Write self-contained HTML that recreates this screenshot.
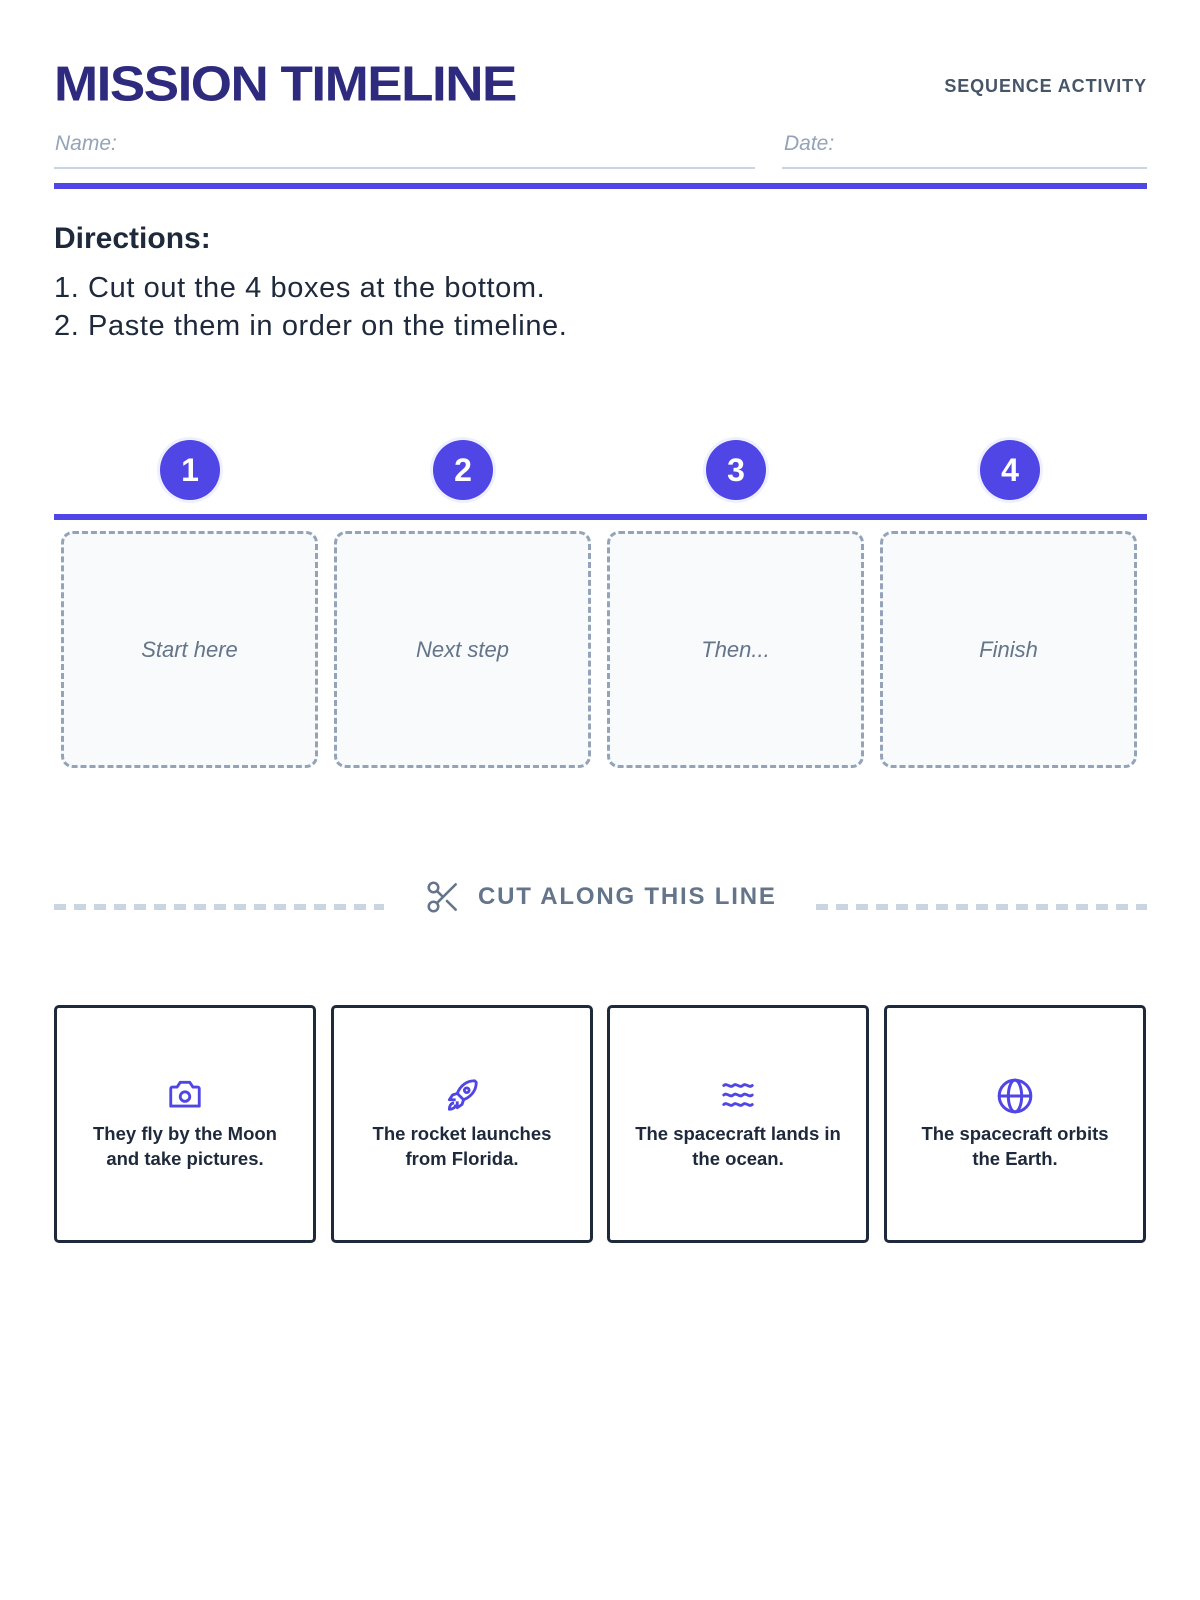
<!DOCTYPE html>
<html><head><meta charset="utf-8"><style>
*{margin:0;padding:0;box-sizing:border-box}
body{width:1200px;height:1600px;background:#fff;position:relative;font-family:"Liberation Sans",sans-serif;overflow:hidden}
.a{position:absolute}
h1{position:absolute;left:54px;top:56px;font-size:53px;font-weight:900;color:#2e2a7e;letter-spacing:-1.5px;transform:scaleY(0.93);transform-origin:top left}
.seq{right:53px;top:76px;font-size:18px;font-weight:bold;color:#475569;letter-spacing:0.9px}
.lbl{font-style:italic;color:#94a3b8;font-size:21px}
.circ{width:60px;height:60px;border-radius:50%;background:#4f46e5;color:#fff;font-weight:bold;font-size:32px;text-align:center;line-height:60px;box-shadow:0 0 0 3px #eef0ff}
.dbox{width:257px;height:237px;border:3px dashed #94a3b8;border-radius:12px;background:#f8fafc;top:531px;display:flex;align-items:center;justify-content:center;font-style:italic;color:#64748b;font-size:22px}
.card{width:262px;height:238px;border:3px solid #1e293b;border-radius:5px;top:1005px;text-align:center;font-weight:bold;color:#1e293b;font-size:18.5px;line-height:25px}
.card svg{position:absolute;left:50%;top:68px;transform:translateX(-50%)}
.card p{position:absolute;left:0;right:0;top:113px}
</style></head><body>
<h1>MISSION TIMELINE</h1>
<div class="a seq">SEQUENCE ACTIVITY</div>
<div class="a lbl" style="left:55px;top:132px">Name:</div>
<div class="a" style="left:54px;top:167px;width:701px;height:2px;background:#cbd5e1"></div>
<div class="a lbl" style="left:784px;top:132px">Date:</div>
<div class="a" style="left:782px;top:167px;width:365px;height:2px;background:#cbd5e1"></div>
<div class="a" style="left:54px;top:183px;width:1093px;height:6px;background:#4f46e5"></div>
<div class="a" style="left:54px;top:222px;font-size:30px;font-weight:bold;color:#1e293b">Directions:</div>
<div class="a" style="left:54px;top:269px;font-size:29px;color:#1e293b;line-height:38px;letter-spacing:0.6px">1. Cut out the 4 boxes at the bottom.<br>2. Paste them in order on the timeline.</div>
<div class="a" style="left:54px;top:514px;width:1093px;height:6px;background:#4f46e5"></div>
<div class="a circ" style="left:160px;top:440px">1</div>
<div class="a circ" style="left:433px;top:440px">2</div>
<div class="a circ" style="left:706px;top:440px">3</div>
<div class="a circ" style="left:980px;top:440px">4</div>
<div class="a dbox" style="left:61px">Start here</div>
<div class="a dbox" style="left:334px">Next step</div>
<div class="a dbox" style="left:607px">Then...</div>
<div class="a dbox" style="left:880px">Finish</div>
<div class="a" style="left:54px;top:904px;width:330px;height:6px;background:repeating-linear-gradient(90deg,#cbd5e1 0 12px,transparent 12px 20px)"></div>
<div class="a" style="left:816px;top:904px;width:331px;height:6px;background:repeating-linear-gradient(90deg,#cbd5e1 0 12px,transparent 12px 20px)"></div>
<svg class="a" style="left:424px;top:878px" width="38" height="38" viewBox="0 0 24 24" fill="none" stroke="#64748b" stroke-width="1.6" stroke-linecap="round"><circle cx="6" cy="6" r="3"/><circle cx="6" cy="18" r="3"/><path d="M20 4L8.1 15.9M14.5 14.5L20 20M8.1 8.1L12 12"/></svg>
<div class="a" style="left:478px;top:883px;font-size:24px;font-weight:bold;color:#64748b;letter-spacing:1.8px">CUT ALONG THIS LINE</div>
<div class="a card" style="left:54px"><svg width="38" height="38" viewBox="0 0 24 24" fill="none" stroke="#4f46e5" stroke-width="1.8" stroke-linejoin="round"><path d="M3 8a1 1 0 0 1 1-1h3l2-3h6l2 3h3a1 1 0 0 1 1 1v11H3z"/><circle cx="12" cy="13" r="3"/></svg><p>They fly by the Moon<br>and take pictures.</p></div>
<div class="a card" style="left:331px"><svg width="38" height="38" viewBox="0 0 24 24" fill="none" stroke="#4f46e5" stroke-width="1.8" stroke-linejoin="round"><path d="M20 3c-5 0-9 3-11 8l4 4c5-2 8-6 8-11z"/><circle cx="15" cy="9" r="1.5"/><path d="M9 11l-3 1-2 3 4 0M13 15l-1 3-3 2 0-4M7 17c-2 0-3 2-3 4 2 0 4-1 4-3"/></svg><p>The rocket launches<br>from Florida.</p></div>
<div class="a card" style="left:607px"><svg width="38" height="38" viewBox="0 0 24 24" fill="none" stroke="#4f46e5" stroke-width="1.8" stroke-linecap="round"><path d="M3 6c2-2 4 2 6 0s4 2 6 0 4 2 6 0M3 12c2-2 4 2 6 0s4 2 6 0 4 2 6 0M3 18c2-2 4 2 6 0s4 2 6 0 4 2 6 0"/></svg><p>The spacecraft lands in<br>the ocean.</p></div>
<div class="a card" style="left:884px"><svg width="40" height="40" viewBox="0 0 24 24" fill="none" stroke="#4f46e5" stroke-width="1.8"><circle cx="12" cy="12" r="9.5"/><ellipse cx="12" cy="12" rx="4" ry="9.5"/><path d="M2.5 12h19"/></svg><p>The spacecraft orbits<br>the Earth.</p></div>
</body></html>
